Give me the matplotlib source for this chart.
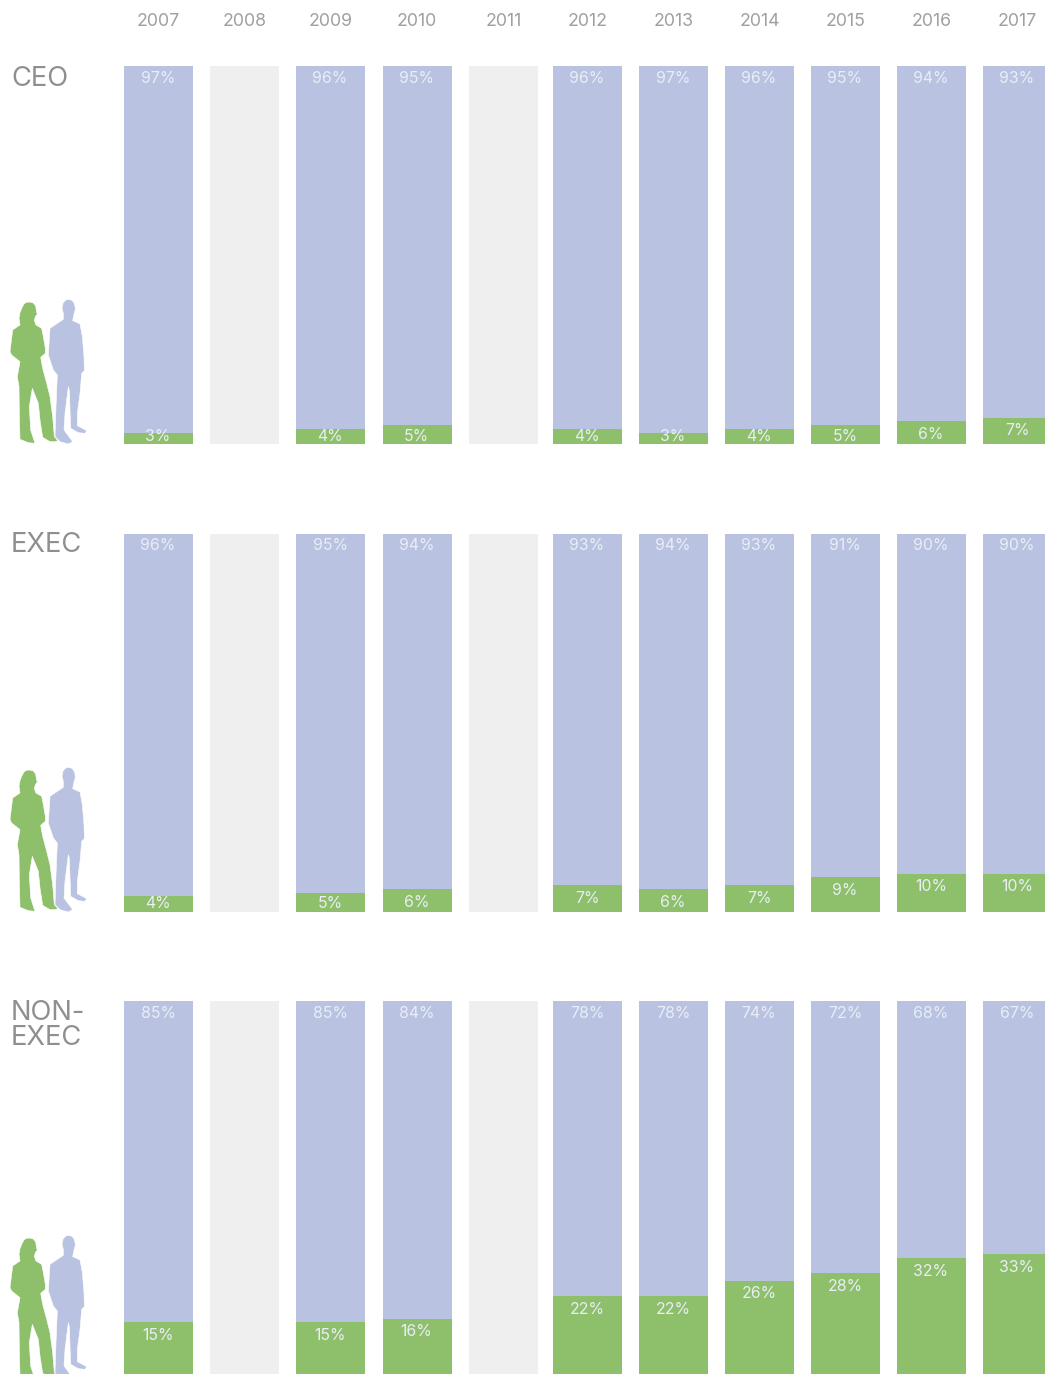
import matplotlib
matplotlib.use('Agg')
import matplotlib.pyplot as plt
from matplotlib.patches import Polygon

plt.rcParams['font.family'] = ['Inter', 'Liberation Sans', 'DejaVu Sans']

# Values (None = no survey that year)
years = ['2007', '2008', '2009', '2010', '2011', '2012', '2013', '2014', '2015', '2016', '2017']
ceo_men = [97, None, 96, 95, None, 96, 97, 96, 95, 94, 93]
ceo_women = [3, None, 4, 5, None, 4, 3, 4, 5, 6, 7]
exec_men = [96, None, 95, 94, None, 93, 94, 93, 91, 90, 90]
exec_women = [4, None, 5, 6, None, 7, 6, 7, 9, 10, 10]
nonexec_men = [85, None, 85, 84, None, 78, 78, 74, 72, 68, 67]
nonexec_women = [15, None, 15, 16, None, 22, 22, 26, 28, 32, 33]
row_labels = ['CEO', 'EXEC', 'NON-\nEXEC']

# Colors
BLUE = '#b9c3e1'
GREEN = '#8ec06c'
EMPTY = '#efefef'
LABEL_GREY = '#8f8f8f'
YEAR_GREY = '#a0a0a0'
PCT_COLOR = '#e9edf6'

# Layout, in pixels of the 1045x1374 figure
W, H = 1045, 1374
BAR_CENTERS = [158.5, 244.5, 330.5, 417, 503.5, 587.5, 673.5, 759.5, 845.5, 931.5, 1017.5]
BAR_WIDTH = 69
ROW_TOPS = [66, 533.5, 1001]
ROW_HEIGHT = 378
LABEL_Y = [79, 545, 1025.5]

# Silhouettes traced in pixels for the first row, shifted for the others
WOMAN = [(88, 66), (100, 69), (107, 78), (110, 98), (113, 100), (106, 110), (103, 122), (108, 135),
         (125, 145), (130, 170), (136, 205), (136, 220), (122, 232), (128, 265), (140, 310), (150, 350),
         (158, 410), (163, 470), (172, 480), (170, 485), (150, 485), (128, 472), (120, 420), (115, 370),
         (97, 325), (88, 380), (92, 450), (105, 490), (85, 488), (60, 478), (58, 400), (57, 320),
         (52, 290), (60, 245), (35, 225), (30, 215), (38, 150), (60, 135), (57, 115), (60, 98),
         (65, 85), (72, 72), (79, 67)]
MAN = [(205, 58), (216, 61), (224, 72), (226, 88), (222, 102), (218, 122), (240, 132), (247, 170),
       (252, 230), (253, 272), (245, 280), (240, 340), (232, 400), (232, 437), (260, 452), (255, 460),
       (235, 458), (212, 445), (208, 330), (205, 320), (195, 400), (192, 450), (218, 485), (205, 492),
       (180, 485), (165, 470), (168, 380), (172, 285), (160, 270), (145, 225), (150, 145), (190, 118),
       (190, 100), (186, 85), (189, 70), (196, 61)]


def draw_row(fig, top, men, women):
    ax = fig.add_axes([0, 1 - (top + ROW_HEIGHT) / H, 1, ROW_HEIGHT / H])
    ax.set_xlim(0, W)
    ax.set_ylim(0, 100)
    ax.axis('off')
    for x, m, w in zip(BAR_CENTERS, men, women):
        if m is None:
            ax.bar(x, 100, BAR_WIDTH, color=EMPTY)
            continue
        ax.bar(x, w, BAR_WIDTH, color=GREEN)
        ax.bar(x, m, BAR_WIDTH, bottom=w, color=BLUE)
        ax.text(x - 0.5, 96.7, f'{m}%', ha='center', va='center', color=PCT_COLOR, fontsize=11.4)
        # small green bars keep the label near the baseline
        ax.text(x - 0.5, max(w - 3.5, 2.1), f'{w}%', ha='center', va='center', color=PCT_COLOR, fontsize=11.4)
    return ax


def draw_people(fig, offset):
    for shape, color in [(MAN, BLUE), (WOMAN, GREEN)]:
        pts = [(x / 3 / W, 1 - (280 + y / 3 + offset) / H) for x, y in shape]
        fig.add_artist(Polygon(pts, closed=True, facecolor=color, edgecolor='white',
                               linewidth=0.4, transform=fig.transFigure))


fig = plt.figure(figsize=(W / 100, H / 100), dpi=100)

rows = [(ceo_men, ceo_women), (exec_men, exec_women), (nonexec_men, nonexec_women)]
for i, (men, women) in enumerate(rows):
    draw_row(fig, ROW_TOPS[i], men, women)
    draw_people(fig, i * 468)
    fig.text(11 / W, 1 - LABEL_Y[i] / H, row_labels[i], ha='left', va='center', color=LABEL_GREY,
             fontsize=19.7, linespacing=0.95)

for x, year in zip(BAR_CENTERS, years):
    fig.text(x / W, 1 - 21 / H, year, ha='center', va='center', color=YEAR_GREY, fontsize=12.8)

plt.savefig('out.png', dpi=100)
